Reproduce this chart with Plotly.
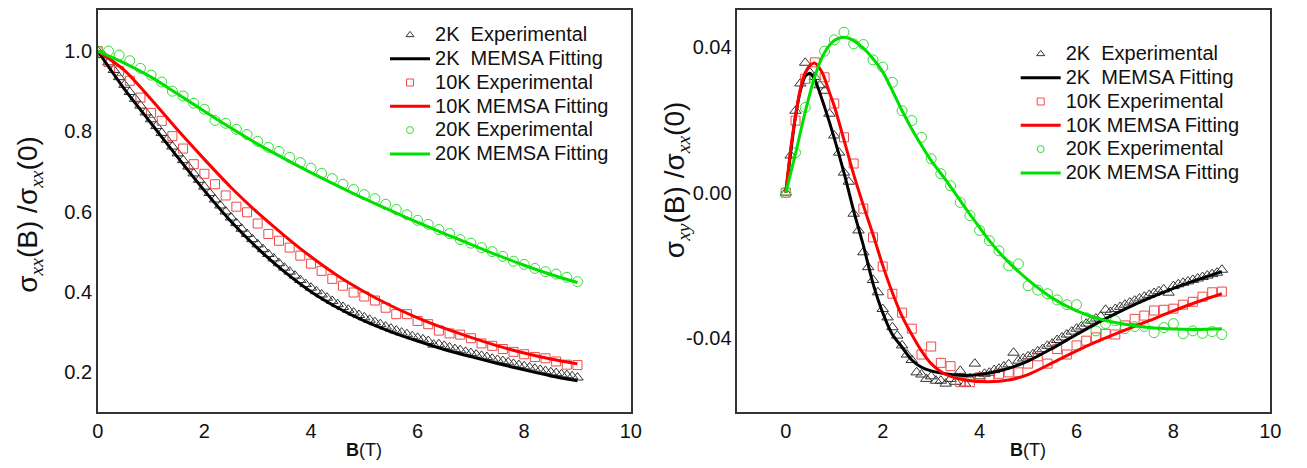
import plotly.graph_objects as go

# ---------------- data ----------------
B_2K = [0.0, 0.1, 0.2, 0.3, 0.4, 0.5, 0.6, 0.7, 0.8, 0.9,
        1.0, 1.1, 1.2, 1.3, 1.4, 1.5, 1.6, 1.7, 1.8, 1.9,
        2.0, 2.1, 2.2, 2.3, 2.4, 2.5, 2.6, 2.7, 2.8, 2.9,
        3.0, 3.1, 3.2, 3.3, 3.4, 3.5, 3.6, 3.7, 3.8, 3.9,
        4.0, 4.1, 4.2, 4.3, 4.4, 4.5, 4.6, 4.7, 4.8, 4.9,
        5.0, 5.1, 5.2, 5.3, 5.4, 5.5, 5.6, 5.7, 5.8, 5.9,
        6.0, 6.1, 6.2, 6.3, 6.4, 6.5, 6.6, 6.7, 6.8, 6.9,
        7.0, 7.1, 7.2, 7.3, 7.4, 7.5, 7.6, 7.7, 7.8, 7.9,
        8.0, 8.1, 8.2, 8.3, 8.4, 8.5, 8.6, 8.7, 8.8, 8.9, 9.0]
B_10K = [0.0, 0.2, 0.4, 0.6, 0.8, 1.0, 1.2, 1.4, 1.6, 1.8,
         2.0, 2.2, 2.4, 2.6, 2.8, 3.0, 3.2, 3.4, 3.6, 3.8,
         4.0, 4.2, 4.4, 4.6, 4.8, 5.0, 5.2, 5.4, 5.6, 5.8,
         6.0, 6.2, 6.4, 6.6, 6.8, 7.0, 7.2, 7.4, 7.6, 7.8,
         8.0, 8.2, 8.4, 8.6, 8.8, 9.0]
B_20K = B_10K

# left panel: sigma_xx(B)/sigma_xx(0)
SXX_2K_EXP = [1.000, 0.990, 0.972, 0.953, 0.935, 0.916, 0.898, 0.881, 0.864, 0.847,
              0.830, 0.813, 0.796, 0.779, 0.762, 0.745, 0.728, 0.712, 0.695, 0.679,
              0.662, 0.646, 0.630, 0.615, 0.600, 0.585, 0.571, 0.557, 0.544, 0.531,
              0.518, 0.506, 0.494, 0.483, 0.471, 0.460, 0.450, 0.440, 0.429, 0.419,
              0.410, 0.401, 0.393, 0.385, 0.377, 0.369, 0.362, 0.355, 0.348, 0.342,
              0.336, 0.330, 0.324, 0.319, 0.313, 0.308, 0.303, 0.298, 0.294, 0.289,
              0.285, 0.281, 0.277, 0.268, 0.269, 0.265, 0.261, 0.257, 0.254, 0.250,
              0.247, 0.243, 0.240, 0.237, 0.233, 0.230, 0.227, 0.224, 0.220, 0.217,
              0.214, 0.211, 0.208, 0.205, 0.202, 0.199, 0.197, 0.194, 0.192, 0.189, 0.186]
SXX_10K_EXP = [1.000, 0.973, 0.950, 0.926, 0.884, 0.846, 0.826, 0.788, 0.757, 0.718,
               0.694, 0.668, 0.640, 0.612, 0.598, 0.570, 0.544, 0.527, 0.510, 0.490,
               0.470, 0.452, 0.432, 0.415, 0.398, 0.388, 0.378, 0.360, 0.344, 0.344,
               0.327, 0.319, 0.303, 0.296, 0.293, 0.284, 0.271, 0.265, 0.257, 0.250,
               0.244, 0.237, 0.234, 0.226, 0.218, 0.217]
SXX_20K_EXP = [1.000, 1.000, 0.990, 0.976, 0.957, 0.940, 0.923, 0.900, 0.888, 0.870,
               0.855, 0.827, 0.820, 0.805, 0.792, 0.775, 0.760, 0.750, 0.735, 0.722,
               0.708, 0.695, 0.682, 0.668, 0.655, 0.642, 0.632, 0.618, 0.605, 0.592,
               0.578, 0.568, 0.555, 0.545, 0.530, 0.521, 0.510, 0.500, 0.488, 0.476,
               0.468, 0.458, 0.450, 0.444, 0.436, 0.425]

B_FIT_XX = [0.0, 0.5, 1.0, 1.5, 2.0, 2.5, 3.0, 3.5, 4.0, 4.5,
            5.0, 5.5, 6.0, 6.5, 7.0, 7.5, 8.0, 8.5, 9.0]
SXX_2K_FIT = [1.000, 0.905, 0.820, 0.735, 0.652, 0.575, 0.508, 0.450, 0.400, 0.360,
              0.327, 0.300, 0.277, 0.256, 0.238, 0.221, 0.205, 0.190, 0.178]
SXX_10K_FIT = [1.000, 0.952, 0.880, 0.803, 0.730, 0.660, 0.597, 0.540, 0.487, 0.440,
               0.400, 0.365, 0.335, 0.309, 0.286, 0.265, 0.247, 0.232, 0.220]
SXX_20K_FIT = [1.000, 0.970, 0.935, 0.893, 0.850, 0.808, 0.768, 0.732, 0.697, 0.664,
               0.632, 0.602, 0.573, 0.545, 0.518, 0.491, 0.466, 0.443, 0.423]

# right panel: sigma_xy(B)/sigma_xx(0)
SXY_2K_EXP = [0.0000, 0.0102, 0.0225, 0.0300, 0.0357, 0.0330, 0.0318, 0.0295, 0.0280, 0.0217,
              0.0157, 0.0110, 0.0055, 0.0030, -0.0058, -0.0104, -0.0164, -0.0205, -0.0240, -0.0274,
              -0.0320, -0.0343, -0.0370, -0.0393, -0.0420, -0.0445, -0.0460, -0.0494, -0.0500, -0.0512,
              -0.0505, -0.0517, -0.0517, -0.0525, -0.0512, -0.0520, -0.0490, -0.0525, -0.0510, -0.0470,
              -0.0505, -0.0498, -0.0495, -0.0488, -0.0484, -0.0478, -0.0472, -0.0440, -0.0462, -0.0456,
              -0.0450, -0.0444, -0.0436, -0.0430, -0.0421, -0.0415, -0.0405, -0.0398, -0.0390, -0.0382,
              -0.0374, -0.0368, -0.0360, -0.0352, -0.0346, -0.0340, -0.0322, -0.0328, -0.0320, -0.0314,
              -0.0308, -0.0302, -0.0297, -0.0291, -0.0286, -0.0281, -0.0276, -0.0271, -0.0266, -0.0275,
              -0.0257, -0.0252, -0.0248, -0.0244, -0.0240, -0.0236, -0.0232, -0.0228, -0.0224, -0.0220, -0.0212]
SXY_10K_EXP = [0.0000, 0.0198, 0.0313, 0.0358, 0.0317, 0.0245, 0.0152, 0.0080, -0.0044, -0.0123,
               -0.0203, -0.0278, -0.0330, -0.0374, -0.0445, -0.0423, -0.0468, -0.0477, -0.0521, -0.0521,
               -0.0508, -0.0508, -0.0498, -0.0494, -0.0494, -0.0470, -0.0450, -0.0470, -0.0430, -0.0445,
               -0.0420, -0.0407, -0.0398, -0.0388, -0.0390, -0.0365, -0.0347, -0.0338, -0.0324, -0.0322,
               -0.0319, -0.0308, -0.0300, -0.0286, -0.0274, -0.0272]
SXY_20K_EXP = [0.0000, 0.0110, 0.0234, 0.0310, 0.0389, 0.0420, 0.0441, 0.0409, 0.0407, 0.0365,
               0.0345, 0.0303, 0.0225, 0.0198, 0.0152, 0.0093, 0.0052, 0.0019, -0.0027, -0.0063,
               -0.0104, -0.0132, -0.0160, -0.0201, -0.0196, -0.0256, -0.0268, -0.0278, -0.0295, -0.0308,
               -0.0308, -0.0344, -0.0380, -0.0360, -0.0352, -0.0374, -0.0368, -0.0368, -0.0385, -0.0371,
               -0.0360, -0.0388, -0.0380, -0.0387, -0.0382, -0.0390]

B_FIT_XY_2K = [0.0, 0.1, 0.2, 0.3, 0.4, 0.5, 0.6, 0.8, 1.0, 1.2, 1.4, 1.6, 1.8, 2.0, 2.2, 2.4,
               2.6, 2.8, 3.0, 3.4, 3.7, 4.0, 4.3, 4.6, 5.0, 5.5, 6.0, 6.5, 7.0, 7.5, 8.0, 8.5, 9.0]
SXY_2K_FIT = [0.0, 0.0110, 0.0210, 0.0280, 0.0320, 0.0328, 0.0310, 0.0235, 0.0150, 0.0055, -0.0050,
              -0.0145, -0.0250, -0.0330, -0.0390, -0.0425, -0.0460, -0.0480, -0.0490, -0.0500,
              -0.0503, -0.0500, -0.0493, -0.0483, -0.0463, -0.0428, -0.0390, -0.0353, -0.0320,
              -0.0290, -0.0263, -0.0239, -0.0217]
B_FIT_XY_10K = [0.0, 0.1, 0.2, 0.3, 0.4, 0.5, 0.6, 0.75, 0.9, 1.0, 1.2, 1.4, 1.6, 1.8, 2.0, 2.2,
                2.4, 2.6, 2.8, 3.0, 3.3, 3.7, 4.2, 4.6, 5.0, 5.5, 6.0, 6.5, 7.0, 7.5, 8.0, 8.5, 9.0]
SXY_10K_FIT = [0.0, 0.0120, 0.0210, 0.0285, 0.0330, 0.0350, 0.0356, 0.0330, 0.0275, 0.0238, 0.0145,
               0.0050, -0.0035, -0.0115, -0.0200, -0.0275, -0.0340, -0.0390, -0.0435, -0.0470,
               -0.0500, -0.0515, -0.0520, -0.0515, -0.0500, -0.0468, -0.0435, -0.0405, -0.0378,
               -0.0352, -0.0325, -0.0300, -0.0278]
B_FIT_XY_20K = [0.0, 0.2, 0.4, 0.6, 0.8, 1.0, 1.2, 1.4, 1.6, 1.8, 2.0, 2.2, 2.4, 2.6, 2.8, 3.0,
                3.3, 3.6, 3.9, 4.2, 4.5, 5.0, 5.5, 6.0, 6.5, 7.0, 7.5, 8.0, 8.5, 9.0]
SXY_20K_FIT = [0.0, 0.0107, 0.0222, 0.0320, 0.0385, 0.0418, 0.0427, 0.0418, 0.0397, 0.0368, 0.0332,
               0.0280, 0.0225, 0.0175, 0.0130, 0.0088, 0.0035, -0.0022, -0.0078, -0.0132, -0.0178,
               -0.0240, -0.0290, -0.0325, -0.0348, -0.0362, -0.0371, -0.0375, -0.0376, -0.0374]

SERIES_NAMES = ["2K  Experimental", "2K  MEMSA Fitting", "10K Experimental",
                "10K MEMSA Fitting", "20K Experimental", "20K MEMSA Fitting"]
X_TICKS_L = [0, 2, 4, 6, 8, 10]
Y_TICKS_L = [0.2, 0.4, 0.6, 0.8, 1.0]
X_TICKS_R = [0, 2, 4, 6, 8, 10]
Y_TICKS_R = [-0.04, 0.0, 0.04]
Y_TICKTEXT_R = ["-0.04", "0.00", "0.04"]

# ---------------- style ----------------
W, H = 1307, 468
FONT = "Arial, 'Liberation Sans', sans-serif"
BLACK = "#000000"
TRI = "#333333"
RED = "#ff0000"
SQ = "#ee4a4a"
GREEN = "#00e000"
CIRC = "#33dd33"

def px_x(p):
    return p / W

def px_y(p):
    return 1 - p / H

fig = go.Figure()

def add_panel(xa, ya, legend, exp, fits):
    for (bx, by, sym, col, size) in exp:
        fig.add_trace(go.Scatter(x=bx, y=by, mode="markers", xaxis=xa, yaxis=ya,
                                 marker=dict(symbol=sym, size=size, color=col,
                                             line=dict(width=1, color=col)),
                                 showlegend=False, hoverinfo="skip"))
    for (bx, by, col) in fits:
        fig.add_trace(go.Scatter(x=bx, y=by, mode="lines", xaxis=xa, yaxis=ya,
                                 line=dict(color=col, width=3, shape="spline", smoothing=0.8),
                                 showlegend=False, hoverinfo="skip"))
    legend_styles = [("markers", "triangle-up-open", TRI), ("lines", None, BLACK),
                     ("markers", "square-open", SQ), ("lines", None, RED),
                     ("markers", "circle-open", CIRC), ("lines", None, GREEN)]
    for name, (mode, sym, col) in zip(SERIES_NAMES, legend_styles):
        label = "<span style='font-size:20px'>" + name + "</span>"
        if mode == "markers":
            fig.add_trace(go.Scatter(x=[None], y=[None], mode="markers", name=label,
                                     xaxis=xa, yaxis=ya, legend=legend,
                                     marker=dict(symbol=sym, size=7, color=col,
                                                 line=dict(width=1, color=col))))
        else:
            fig.add_trace(go.Scatter(x=[None], y=[None], mode="lines", name=label,
                                     xaxis=xa, yaxis=ya, legend=legend,
                                     line=dict(color=col, width=3)))

add_panel("x", "y", "legend",
          [(B_2K, SXX_2K_EXP, "triangle-up-open", TRI, 10),
           (B_10K, SXX_10K_EXP, "square-open", SQ, 9),
           (B_20K, SXX_20K_EXP, "circle-open", CIRC, 10)],
          [(B_FIT_XX, SXX_2K_FIT, BLACK), (B_FIT_XX, SXX_10K_FIT, RED),
           (B_FIT_XX, SXX_20K_FIT, GREEN)])
add_panel("x2", "y2", "legend2",
          [(B_2K, SXY_2K_EXP, "triangle-up-open", TRI, 10),
           (B_10K, SXY_10K_EXP, "square-open", SQ, 9),
           (B_20K, SXY_20K_EXP, "circle-open", CIRC, 10)],
          [(B_FIT_XY_2K, SXY_2K_FIT, BLACK), (B_FIT_XY_10K, SXY_10K_FIT, RED),
           (B_FIT_XY_20K, SXY_20K_FIT, GREEN)])

axis_common = dict(showline=True, mirror=True, linecolor="#333333", linewidth=1.5,
                   showgrid=False, zeroline=False, ticks="",
                   tickfont=dict(family=FONT, size=20, color="#111111"))

legend_common = dict(xanchor="left", yanchor="top", bgcolor="rgba(0,0,0,0)",
                     font=dict(family=FONT, size=16, color="#111111"),
                     itemwidth=40, tracegroupgap=0)

fig.update_layout(
    width=W, height=H, margin=dict(l=0, r=0, t=0, b=0),
    paper_bgcolor="white", plot_bgcolor="white",
    font=dict(family=FONT, color="#111111"),
    xaxis=dict(domain=[px_x(93), px_x(633)], range=[0, 10], tickvals=X_TICKS_L,
               anchor="y", **axis_common),
    yaxis=dict(domain=[px_y(412), px_y(10)], range=[0.1, 1.1025], tickvals=Y_TICKS_L,
               tickformat=".1f", anchor="x", **axis_common),
    xaxis2=dict(domain=[px_x(741), px_x(1281)], range=[-1, 10], tickvals=X_TICKS_R,
                anchor="y2", **axis_common),
    yaxis2=dict(domain=[px_y(412), px_y(10)], range=[-0.0603, 0.0502], tickvals=Y_TICKS_R,
                ticktext=Y_TICKTEXT_R, anchor="x2", **axis_common),
    legend=dict(x=px_x(384), y=px_y(18), **legend_common),
    legend2=dict(x=px_x(1023), y=px_y(37), **legend_common),
)

sub = "<span style='font-family:\"Liberation Serif\", serif'><i>{}</i></span>"
ytitle_l = "σ<sub>" + sub.format("xx") + "</sub>(B) /σ<sub>" + sub.format("xx") + "</sub>(0)"
ytitle_r = "σ<sub>" + sub.format("xy") + "</sub>(B) /σ<sub>" + sub.format("xx") + "</sub>(0)"

for text, xc, yc in ((ytitle_l, 24, 214), (ytitle_r, 680, 180)):
    fig.add_annotation(xref="paper", yref="paper", showarrow=False, xanchor="center",
                       yanchor="middle", x=px_x(xc), y=px_y(yc), text=text, textangle=-90,
                       font=dict(family=FONT, size=28, color="#111111"))
for xc in (363, 1035):
    fig.add_annotation(xref="paper", yref="paper", showarrow=False, xanchor="center",
                       yanchor="middle", x=px_x(xc), y=px_y(450), text="<b>B</b>(T)",
                       font=dict(family=FONT, size=18, color="#111111"))

fig.write_html("out.html", config={"displayModeBar": False})

# remove the default page margin so the figure sits at the window origin
with open("out.html", "r", encoding="utf-8") as f:
    html = f.read()
html = html.replace("<head>", "<head><style>html,body{margin:0;padding:0;overflow:hidden;}</style>", 1)
with open("out.html", "w", encoding="utf-8") as f:
    f.write(html)
